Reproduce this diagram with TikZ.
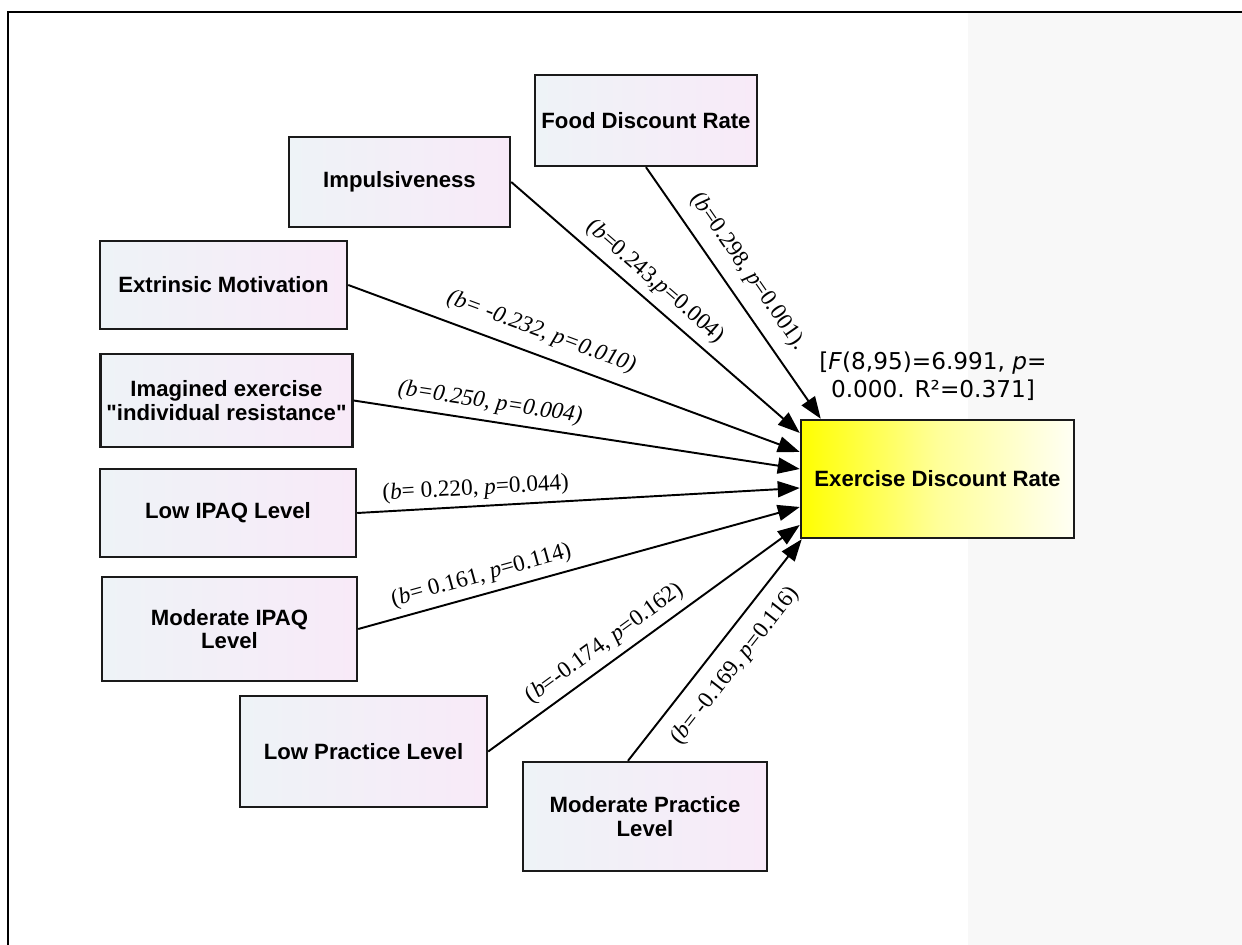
\documentclass[tikz,border=0pt]{standalone}
\usepackage{fontspec}
\setmainfont{Liberation Serif}
\newfontfamily\boxfont{Liberation Sans}
\newfontfamily\statfont{DejaVu Sans}
\usetikzlibrary{arrows.meta, positioning}
\definecolor{boxleft}{HTML}{EEF3F7}
\definecolor{boxright}{HTML}{F8EAF8}
\definecolor{panelgray}{HTML}{F8F8F8}
\definecolor{edgeblack}{HTML}{1A1A1A}

\begin{document}
\begin{tikzpicture}[
  var/.style={rectangle, draw=edgeblack, line width=1.4pt, left color=boxleft, right color=boxright, font=\boxfont\bfseries\fontsize{12.6}{13.5}\selectfont, align=center},
  target/.style={var, left color=yellow, right color=yellow!4, middle color=yellow!40},
  effect/.style={-{Triangle[length=0.44cm,width=0.32cm]}, line width=1.1pt},
  coef/.style={sloped, inner sep=1pt, font=\fontsize{13.2}{15}\selectfont}
]
\useasboundingbox (0,0) rectangle (24.84,18.9);

% Frame and side panel
\fill[panelgray] (19.36,0) rectangle (24.84,18.63);
\draw[line width=1.3pt] (0.166,0) -- (0.166,18.656) -- (24.84,18.656);

% Predictors
\node[var, minimum width=4.44cm, minimum height=1.82cm] (food) at (12.92,16.49) {Food Discount Rate};
\node[var, minimum width=4.42cm, minimum height=1.80cm] (impulsive) at (7.99,15.26) {Impulsiveness};
\node[var, minimum width=4.94cm, minimum height=1.76cm] (extrinsic) at (4.47,13.2) {Extrinsic Motivation};
\node[var, minimum width=4.98cm, minimum height=1.86cm] (imagined) at (4.53,10.89) {Imagined exercise\\"individual resistance"};
\node[var, minimum width=5.12cm, minimum height=1.76cm] (lowipaq) at (4.56,8.64) {Low IPAQ Level};
\node[var, minimum width=5.10cm, minimum height=2.08cm] (modipaq) at (4.59,6.32) {Moderate IPAQ\\Level};
\node[var, minimum width=4.94cm, minimum height=2.22cm] (lowprac) at (7.27,3.87) {Low Practice Level};
\node[var, minimum width=4.88cm, minimum height=2.18cm] (modprac) at (12.9,2.57) {Moderate Practice\\Level};

% Outcome
\node[target, minimum width=5.46cm, minimum height=2.36cm] (exercise) at (18.75,9.32) {Exercise Discount Rate};
\node[font=\statfont\fontsize{13.2}{15.9}\selectfont, align=center] (fstat) at (exercise.north) [xshift=-0.09cm, yshift=0.85cm] {[\textit{F}(8,95)=6.991, \textit{p}=\\0.000. R²=0.371]};

% Paths
\draw[effect] (food.south) -- node[coef, pos=0.47, above=0.22cm] {(\textit{b}=0.298, \textit{p}=0.001).} ([xshift=0.42cm]exercise.north west);
\draw[effect] (impulsive.east) -- node[coef, pos=0.455, above=0.12cm] {(\textit{b}=0.243,\textit{p}=0.004)} ([yshift=0.92cm]exercise.west);
\draw[effect] (extrinsic.east) -- node[coef, pos=0.41, above=0.19cm] {\itshape(b= -0.232, p=0.010)} ([yshift=0.54cm]exercise.west);
\draw[effect] (imagined.east) -- node[coef, pos=0.30, above=0.10cm] {\itshape(b=0.250, p=0.004)} ([yshift=0.2cm]exercise.west);
\draw[effect] (lowipaq.east) -- node[coef, pos=0.27, above=0.08cm] {(\textit{b}= 0.220, \textit{p}=0.044)} ([yshift=-0.18cm]exercise.west);
\draw[effect] (modipaq.east) -- node[coef, pos=0.29, above=0.10cm] {(\textit{b}= 0.161, \textit{p}=0.114)} ([yshift=-0.56cm]exercise.west);
\draw[effect] (lowprac.east) -- node[coef, pos=0.41, above=0.11cm] {(\textit{b}=-0.174, \textit{p}=0.162)} ([yshift=-0.92cm]exercise.west);
\draw[effect] ([xshift=-0.34cm]modprac.north) -- node[coef, pos=0.50, below=0.26cm] {(\textit{b}= -0.169, \textit{p}=0.116)} ([xshift=0.04cm]exercise.south west);
\end{tikzpicture}
\end{document}
